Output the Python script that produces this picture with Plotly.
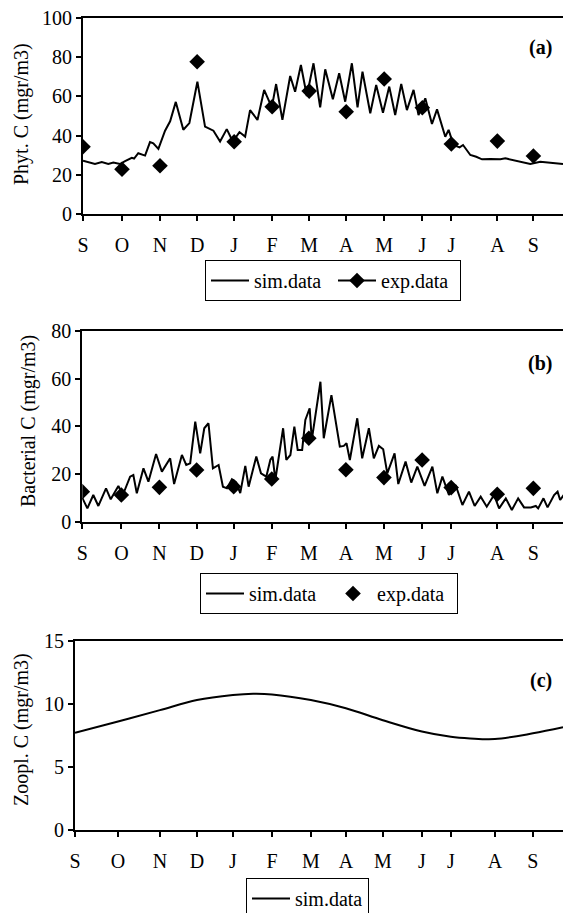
import plotly.graph_objects as go

# ---------------- data ----------------
month_labels = ["S", "O", "N", "D", "J", "F", "M", "A", "M", "J", "J", "A", "S"]
month_days_ab = [0, 31.6, 62.4, 92.5, 122.5, 153.3, 183.3, 213.3, 244.1, 275, 298.5, 335.8, 365]
month_days_c = [0, 34.3, 67.7, 97.2, 125.9, 157, 188, 215.9, 245.4, 276.5, 299.6, 334.7, 365]

# (a) Phytoplankton
phyt_sim_day = [0, 9.7, 15.2, 20.5, 24.6, 30, 34.1, 39.5, 41.4, 44.8, 50.3, 54.3, 57, 61.1,
                66.5, 70.6, 75.2, 81.3, 86.2, 92.7, 98.9, 105.7, 111.1, 116.5, 121.4, 126.8,
                131.4, 135.4, 141.4, 146.8, 153, 156.5, 161.6, 167.9, 171.9, 176.6, 181.4,
                186.8, 192.2, 196.3, 202.5, 207.6, 212.5, 217.9, 222.5, 226.5, 232.8, 237.6,
                243.1, 248.2, 253, 257.9, 262.5, 267.9, 271.9, 277.4, 282.8, 286.9, 293.6,
                296.3, 300.3, 305.2, 308, 313.9, 318.7, 323.4, 330.1, 338.2, 342.3, 351.7,
                362.5, 370.6, 378.7, 384.2, 389]
phyt_sim_val = [27.2, 25.5, 26.5, 25.5, 26.3, 25.5, 27, 28.7, 28.3, 31, 29.8, 36.7, 36.1, 33.2,
                42.5, 47.3, 57.2, 43, 46.4, 67.5, 44.6, 42.5, 37, 43.3, 37, 41.8,
                39.5, 53, 48, 63.3, 54.4, 66.3, 48, 70.4, 62.4, 76, 60.2,
                76.9, 54.4, 73.8, 58.5, 71.8, 57.3, 76.9, 54.4, 72.6, 51.4, 65.8,
                51.7, 65, 50.5, 66.3, 53, 63.3, 50.5, 59, 45.9, 53.4, 39.4,
                42.9, 35.2, 34, 35.2, 30.1, 29.2, 27.9, 28, 27.9, 28.4, 27.2,
                25.5, 26.7, 26.2, 25.7, 25.5]
phyt_exp = [34.3, 22.8, 24.6, 77.7, 36.9, 54.7, 62.7, 52.2, 68.9, 54.2, 35.7, 37.2, 29.6]

# (b) Bacteria
bact_sim_day = [0, 4.1, 8.9, 13, 19.2, 23, 29.2, 32.8, 38.7, 41.3, 44.1, 49.5, 53.5, 59.7,
                64.4, 71.1, 74.3, 80.6, 84.1, 87.3, 91.4, 95.4, 98.7, 102.1, 105.7, 110.3,
                113.8, 117.1, 121.1, 124.5, 127.8, 131.9, 134.6, 140.8, 144.6, 148.9, 152.2,
                154, 156.2, 162.5, 165.1, 168.4, 171.6, 174.3, 177.9, 180.5, 184, 185.7,
                192.7, 195.4, 201.6, 208.4, 211.6, 213.8, 216.5, 222.5, 226.5, 231.9, 235.9,
                240, 243.5, 246.8, 252.7, 255.7, 261.6, 266.2, 271.1, 277, 283.3, 287.3,
                291.4, 296.7, 302.1, 307.6, 312.9, 317.5, 322.4, 327.3, 333.2, 337.3, 342.7,
                347.6, 352.7, 357.5, 363, 367, 368.9, 373.2, 376.5, 381.8, 384.6, 386.7, 389.5]
bact_sim_val = [10, 5.6, 11.2, 6.6, 14, 9.4, 15, 11.2, 18.9, 19.6, 11.9, 22.4, 16.8, 28.4,
                21, 26.6, 15.8, 28, 23.8, 24.5, 42, 28.7, 39.2, 41.3, 22.4, 23.8,
                14.7, 14, 17.8, 16.5, 12, 23.4, 14.7, 27.3, 20.3, 18.9, 26,
                27.3, 17.5, 39.2, 25.9, 28, 39.9, 30.1, 30.1, 42.7, 47.6, 34.3,
                58.7, 35, 53.1, 31.5, 31.8, 32.9, 25.9, 43.4, 26.6, 39.2, 26.6,
                31.8, 30.4, 20.3, 28.7, 15.8, 25.2, 16.4, 23.1, 15, 23.1, 11.9,
                18.9, 11.2, 15.4, 7, 12.6, 6.6, 10.5, 6.3, 11.2, 5.6, 9.8,
                4.9, 9.8, 6, 6, 6.6, 5.6, 9.8, 6, 11.2, 12.6, 9.1, 11.2]
bact_exp = [12.6, 11.2, 14.4, 21.7, 14.7, 17.9, 35, 21.8, 18.5, 25.9, 14.3, 11.5, 14]

# (c) Zooplankton
zoo_sim_day = [0, 34.3, 67.7, 97.2, 125.9, 142, 157, 188, 215.9, 245.4, 276.5, 299.6, 315,
               334.7, 365, 389]
zoo_sim_val = [7.7, 8.6, 9.5, 10.3, 10.7, 10.8, 10.75, 10.3, 9.65, 8.7, 7.8, 7.38, 7.25,
               7.2, 7.65, 8.13]

# ---------------- figure ----------------
W, H = 563, 913
FONT = "Liberation Serif, Times New Roman, serif"


def py(px):
    return 1 - px / H


fig = go.Figure()

line_style = dict(color="black", width=2)
mk = dict(symbol="diamond", color="black", size=12)

# panel a
fig.add_trace(go.Scatter(x=phyt_sim_day, y=phyt_sim_val, mode="lines", line=line_style,
                         name="sim.data", xaxis="x", yaxis="y", legend="legend"))
fig.add_trace(go.Scatter(x=month_days_ab, y=phyt_exp, mode="markers", marker=mk,
                         name="exp.data", xaxis="x", yaxis="y", showlegend=False))
fig.add_trace(go.Scatter(x=[None], y=[None], mode="lines+markers", marker=mk,
                         line=line_style, name="exp.data", xaxis="x", yaxis="y",
                         legend="legend"))
# panel b
fig.add_trace(go.Scatter(x=bact_sim_day, y=bact_sim_val, mode="lines", line=line_style,
                         name="sim.data", xaxis="x2", yaxis="y2", legend="legend2"))
fig.add_trace(go.Scatter(x=month_days_ab, y=bact_exp, mode="markers", marker=mk,
                         name="exp.data", xaxis="x2", yaxis="y2", legend="legend2"))
# panel c
fig.add_trace(go.Scatter(x=zoo_sim_day, y=zoo_sim_val, mode="lines",
                         line=dict(color="black", width=2, shape="spline"),
                         name="sim.data", xaxis="x3", yaxis="y3", legend="legend3"))

tickfont = dict(family=FONT, size=20, color="black")

def xax(dom_left, anchor, tickvals):
    return dict(domain=[dom_left / W, 1], anchor=anchor, range=[0, 389],
                tickmode="array", tickvals=tickvals, ticktext=month_labels,
                showline=True, linewidth=2, linecolor="black", mirror=True,
                ticks="outside", ticklen=5, tickwidth=1.5, tickcolor="black",
                showgrid=False, zeroline=False, tickfont=tickfont,
                ticklabelstandoff=7)

def yax(top, bottom, anchor, rng, dtick):
    return dict(domain=[py(bottom), py(top)], anchor=anchor, range=rng, dtick=dtick,
                showline=True, linewidth=2, linecolor="black",
                ticks="outside", ticklen=5, tickwidth=1.5, tickcolor="black",
                showgrid=False, zeroline=False, tickfont=tickfont)

legend_common = dict(orientation="h", bgcolor="white", bordercolor="black", borderwidth=1,
                     font=dict(family=FONT, size=20, color="black"),
                     xanchor="left", yanchor="top", xref="paper", yref="paper",
                     entrywidthmode="pixels", itemwidth=38)

fig.update_layout(
    width=W, height=H,
    margin=dict(l=0, r=0, t=0, b=0, autoexpand=False),
    paper_bgcolor="white", plot_bgcolor="white",
    xaxis=xax(83, "y", month_days_ab),
    yaxis=yax(18, 214, "x", [0, 100], 20),
    xaxis2=xax(82.3, "y2", month_days_ab),
    yaxis2=yax(331, 521.7, "x2", [0, 80], 20),
    xaxis3=xax(75, "y3", month_days_c),
    yaxis3=yax(641, 829.5, "x3", [0, 15], 5),
    legend=dict(legend_common, x=205 / W, y=py(260), entrywidth=74),
    legend2=dict(legend_common, x=200 / W, y=py(573), entrywidth=75),
    legend3=dict(legend_common, x=246 / W, y=py(878)),
    showlegend=True,
)

annots = [
    dict(text="<b>(a)</b>", x=540 / W, y=py(47)),
    dict(text="<b>(b)</b>", x=540 / W, y=py(363)),
    dict(text="<b>(c)</b>", x=541 / W, y=py(680)),
    dict(text="Phyt. C (mgr/m3)", x=22 / W, y=py(114), textangle=-90),
    dict(text="Bacterial C (mgr/m3)", x=28 / W, y=py(421), textangle=-90),
    dict(text="Zoopl. C (mgr/m3)", x=21 / W, y=py(730), textangle=-90),
]
for a in annots:
    fig.add_annotation(xref="paper", yref="paper", showarrow=False,
                       xanchor="center", yanchor="middle",
                       font=dict(family=FONT, size=20, color="black"), **a)

fig.write_html("out.html", config={"displayModeBar": False},
               post_script="document.body.style.margin='0px';document.body.style.padding='0px';")
